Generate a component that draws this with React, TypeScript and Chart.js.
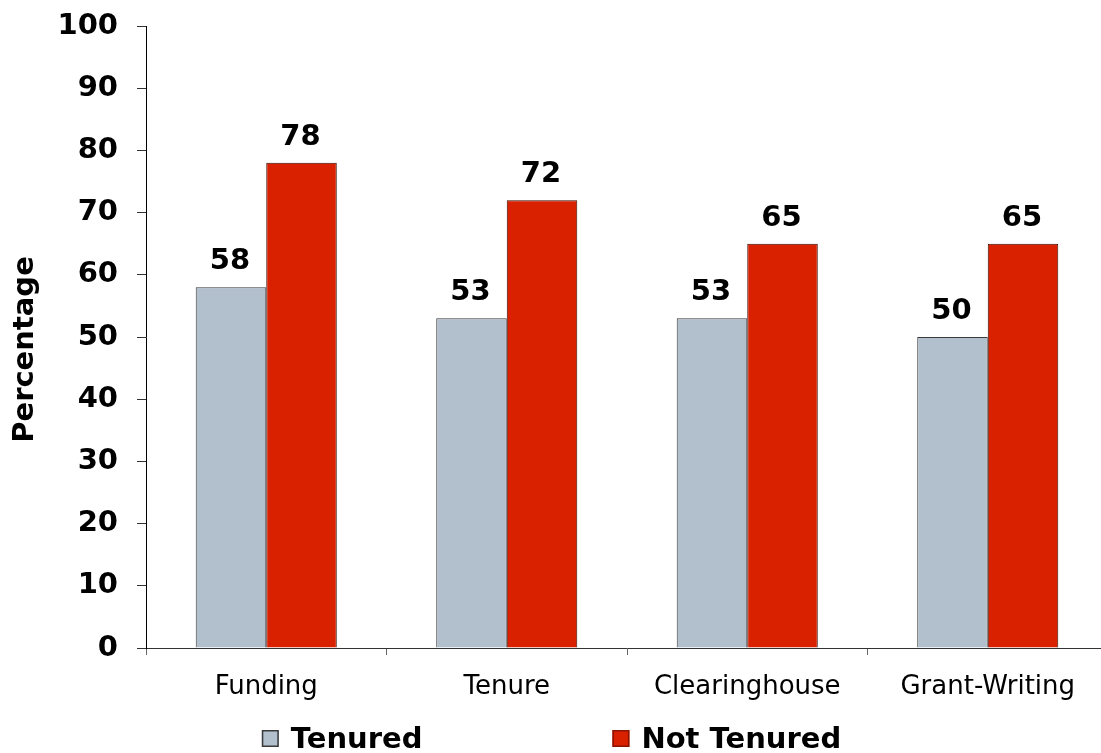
import React, { useEffect, useRef } from "react";
import { Chart, registerables } from "chart.js";

Chart.register(...registerables);

const categories = ["Funding", "Tenure", "Clearinghouse", "Grant-Writing"];
const tenured = [58, 53, 53, 50];
const notTenured = [78, 72, 65, 65];
const seriesNames = ["Tenured", "Not Tenured"];
const yAxisTitle = "Percentage";
const yMin = 0;
const yMax = 100;
const yStep = 10;

const FONT = '"DejaVu Sans", Verdana, sans-serif';
const TENURED_FILL = "#B2C0CE";
const TENURED_BORDER = "#3a3a3a";
const NOT_FILL = "#D92100";
const NOT_BORDER = "#3a0a00";

const overlay = {
  id: "overlay",
  afterDatasetsDraw(chart: any) {
    const ctx: CanvasRenderingContext2D = chart.ctx;
    ctx.save();
    // value labels
    ctx.font = `bold 29px ${FONT}`;
    ctx.fillStyle = "#000";
    ctx.textAlign = "center";
    ctx.textBaseline = "alphabetic";
    chart.data.datasets.forEach((ds: any, i: number) => {
      const meta = chart.getDatasetMeta(i);
      meta.data.forEach((bar: any, j: number) => {
        ctx.fillText(String(ds.data[j]), bar.x - 1, bar.y - 18);
      });
    });
    // y axis title
    ctx.save();
    ctx.translate(33, 349.5);
    ctx.rotate(-Math.PI / 2);
    ctx.textAlign = "center";
    ctx.textBaseline = "alphabetic";
    ctx.fillText(yAxisTitle, 0, 0);
    ctx.restore();
    // legend
    const box = 17;
    const gapText = 12;
    const gapItems = 190;
    const fills = [TENURED_FILL, NOT_FILL];
    const borders = [TENURED_BORDER, "#8a1400"];
    ctx.font = `bold 29px ${FONT}`;
    const widths = seriesNames.map((s) => ctx.measureText(s).width);
    const total =
      widths.reduce((a, b) => a + b, 0) + seriesNames.length * (box + gapText) + gapItems * (seriesNames.length - 1);
    let x = 551.5 - total / 2;
    const baseline = 748;
    ctx.textAlign = "left";
    seriesNames.forEach((s, i) => {
      ctx.fillStyle = fills[i];
      ctx.fillRect(x, baseline - 18, box, box);
      ctx.strokeStyle = borders[i];
      ctx.lineWidth = 1.5;
      ctx.strokeRect(x + 0.75, baseline - 18 + 0.75, box - 1.5, box - 1.5);
      ctx.fillStyle = "#000";
      ctx.fillText(s, x + box + gapText, baseline);
      x += box + gapText + widths[i] + gapItems;
    });
    ctx.restore();
  },
};

export default function App() {
  const ref = useRef<HTMLCanvasElement | null>(null);
  useEffect(() => {
    if (!ref.current) return;
    const chart = new Chart(ref.current, {
      type: "bar",
      data: {
        labels: categories,
        datasets: [
          {
            label: seriesNames[0],
            data: tenured,
            backgroundColor: TENURED_FILL,
            borderColor: TENURED_BORDER,
            borderWidth: 1,
            categoryPercentage: 0.5865,
            barPercentage: 1,
          },
          {
            label: seriesNames[1],
            data: notTenured,
            backgroundColor: NOT_FILL,
            borderColor: NOT_BORDER,
            borderWidth: 1,
            categoryPercentage: 0.5865,
            barPercentage: 1,
          },
        ],
      },
      options: {
        animation: false,
        responsive: false,
        devicePixelRatio: 1,
        layout: { padding: { top: 26, right: 2, left: 0, bottom: 0 } },
        plugins: {
          legend: { display: false },
          tooltip: { enabled: false },
          title: { display: false },
        },
        scales: {
          x: {
            offset: true,
            grid: {
              display: true,
              offset: true,
              drawOnChartArea: false,
              drawTicks: true,
              tickLength: 7,
              color: "#666666",
            },
            border: { display: true, color: "#333333", width: 1 },
            ticks: {
              color: "#000",
              padding: 17,
              font: { family: FONT, size: 26, weight: "normal" },
              maxRotation: 0,
              autoSkip: false,
            },
            afterFit: (scale: any) => {
              scale.height = 105;
              scale.paddingLeft = 0;
              scale.paddingRight = 0;
            },
          },
          y: {
            min: yMin,
            max: yMax,
            grid: {
              display: true,
              drawOnChartArea: false,
              drawTicks: true,
              tickLength: 9,
              color: "#333333",
            },
            border: { display: true, color: "#000000", width: 1 },
            ticks: {
              stepSize: yStep,
              color: "#000",
              padding: 19,
              font: { family: FONT, size: 29, weight: "bold" },
            },
            afterFit: (scale: any) => {
              scale.width = 146;
              scale.paddingTop = 0;
              scale.paddingBottom = 0;
            },
          },
        },
      },
      plugins: [overlay],
    });
    return () => chart.destroy();
  }, []);
  return (
    <div
      style={{
        position: "fixed",
        left: 0,
        top: 0,
        width: 1101,
        height: 753,
        overflow: "hidden",
        background: "#fff",
      }}
    >
      <canvas ref={ref} width={1110} height={753} style={{ display: "block" }} />
    </div>
  );
}
